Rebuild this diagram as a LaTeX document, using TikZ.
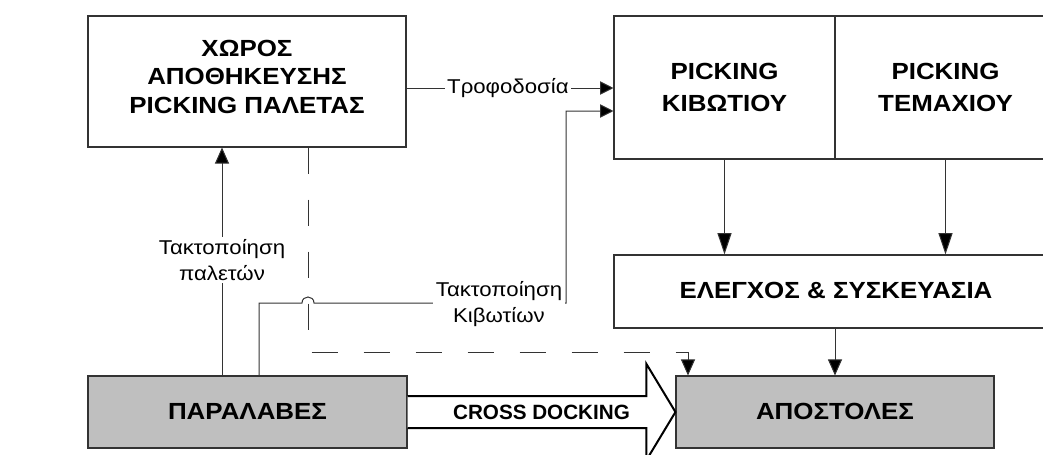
\documentclass[tikz,border=0pt]{standalone}
\usepackage{fontspec}
\setmainfont[FakeStretch=1.11]{Liberation Sans}
\newfontfamily\narrowsans{Liberation Sans}
\usetikzlibrary{arrows.meta,fit,calc}
\begin{document}
\begin{tikzpicture}[x=0.75pt,y=-0.75pt,
  box/.style={draw=black!80, line width=0.8pt, inner sep=0pt},
  boxtext/.style={inner sep=0pt, align=center,
    font=\bfseries\fontsize{17.5}{21.4}\selectfont},
  picktext/.style={boxtext, font=\bfseries\fontsize{17.5}{24}\selectfont},
  grey/.style={fill=black!25},
  conn/.style={draw=black!80, line width=0.75pt},
  tip/.style={-{Triangle[length=12pt,width=10.5pt,fill=black]}},
  longtip/.style={-{Triangle[length=16pt,width=10.5pt,fill=black]}},
  shorttip/.style={-{Triangle[length=10pt,width=10pt,fill=black]}},
  lbl/.style={fill=white, inner sep=2pt, align=center,
    font=\fontsize{15}{19.5}\selectfont},
  dashline/.style={dash pattern=on 19.5pt off 19.5pt}
]
\useasboundingbox (0,0) rectangle (1043,454);
\clip (0,0) rectangle (1043,454);
\fill[white] (0,0) rectangle (1043,454);

% boxes
\node[box, fit={(88,16)(406,147)}] (store) {};
\node[boxtext] (storet) at ($(store.center)+(0,-5)$) {ΧΩΡΟΣ\\ΑΠΟΘΗΚΕΥΣΗΣ\\PICKING ΠΑΛΕΤΑΣ};
\node[box, fit={(614,16)(835,159)}] (pick1) {};
\node[picktext] (pick1t) at (pick1.center) {PICKING\\ΚΙΒΩΤΙΟΥ};
\node[box, fit={(835,16)(1056,159)}] (pick2) {};
\node[picktext] (pick2t) at (pick2.center) {PICKING\\ΤΕΜΑΧΙΟΥ};
\node[box, fit={(614,255)(1058,328)}] (check) {};
\node[boxtext] (checkt) at ($(check.center)+(0,-1)$) {ΕΛΕΓΧΟΣ \& ΣΥΣΚΕΥΑΣΙΑ};
\node[box, grey, fit={(88,376)(407,448)}] (recv) {};
\node[boxtext] (recvt) at ($(recv.center)+(0,-1)$) {ΠΑΡΑΛΑΒΕΣ};
\node[box, grey, fit={(676,376)(994,448)}] (ship) {};
\node[boxtext] (shipt) at ($(ship.center)+(0,-1)$) {ΑΠΟΣΤΟΛΕΣ};

% helper coordinates
\coordinate (xpal) at (222,0);
\coordinate (xdash) at (308,0);
\coordinate (xkib) at (259,0);
\coordinate (xup) at (566,0);
\coordinate (xship) at (688,0);
\coordinate (ytrof) at (0,88);
\coordinate (ykib) at (0,111);
\coordinate (ylow) at (0,303);
\coordinate (ydash) at (0,352);

% Τροφοδοσία
\draw[conn,shorttip] (store.east |- ytrof) -- node[lbl, pos=0.49]{Τροφοδοσία} (pick1.west |- ytrof);

% Τακτοποίηση παλετών
\draw[conn,tip] (recv.north -| xpal) -- node[lbl, pos=0.507]{Τακτοποίηση\\παλετών} (store.south -| xpal);

% dashed line to ΑΠΟΣΤΟΛΕΣ
\draw[conn,dashline,tip] (store.south -| xdash) -- (xdash |- ydash) -- (xship |- ydash) -- (ship.north -| xship);

% Τακτοποίηση Κιβωτίων (with jump over the dashed line)
\draw[conn,shorttip] (recv.north -| xkib) -- (xkib |- ylow) -- ($(xdash |- ylow)+(-6,0)$)
  .. controls ($(xdash |- ylow)+(-6,-8)$) and ($(xdash |- ylow)+(6,-8)$) .. ($(xdash |- ylow)+(6,0)$)
  -- (xup |- ylow) -- (xup |- ykib) -- (pick1.west |- ykib);
\node[lbl] (kiblbl) at (499,304) {Τακτοποίηση\\Κιβωτίων};

% picking to check
\draw[conn,longtip] (pick1.south) -- (pick1.south |- check.north);
\draw[conn,longtip] (pick2.south) -- (pick2.south |- check.north);
% check to ship
\draw[conn,tip] (check.south -| ship.north) -- (ship.north);

% cross docking arrow
\filldraw[draw=black, fill=white, line width=1.5pt, line join=miter]
  ($(recv.east)+(0,-16)$) -- ($(ship.west)+(-29,-16)$) -- ($(ship.west)+(-29,-48)$)
  -- (ship.west) -- ($(ship.west)+(-29,48)$) -- ($(ship.west)+(-29,16)$) -- ($(recv.east)+(0,16)$);
\node[font=\narrowsans\bfseries\fontsize{15.5}{18}\selectfont] (cd) at ($(recv.east)!0.5!(ship.west)$) {CROSS DOCKING};
\end{tikzpicture}
\end{document}
